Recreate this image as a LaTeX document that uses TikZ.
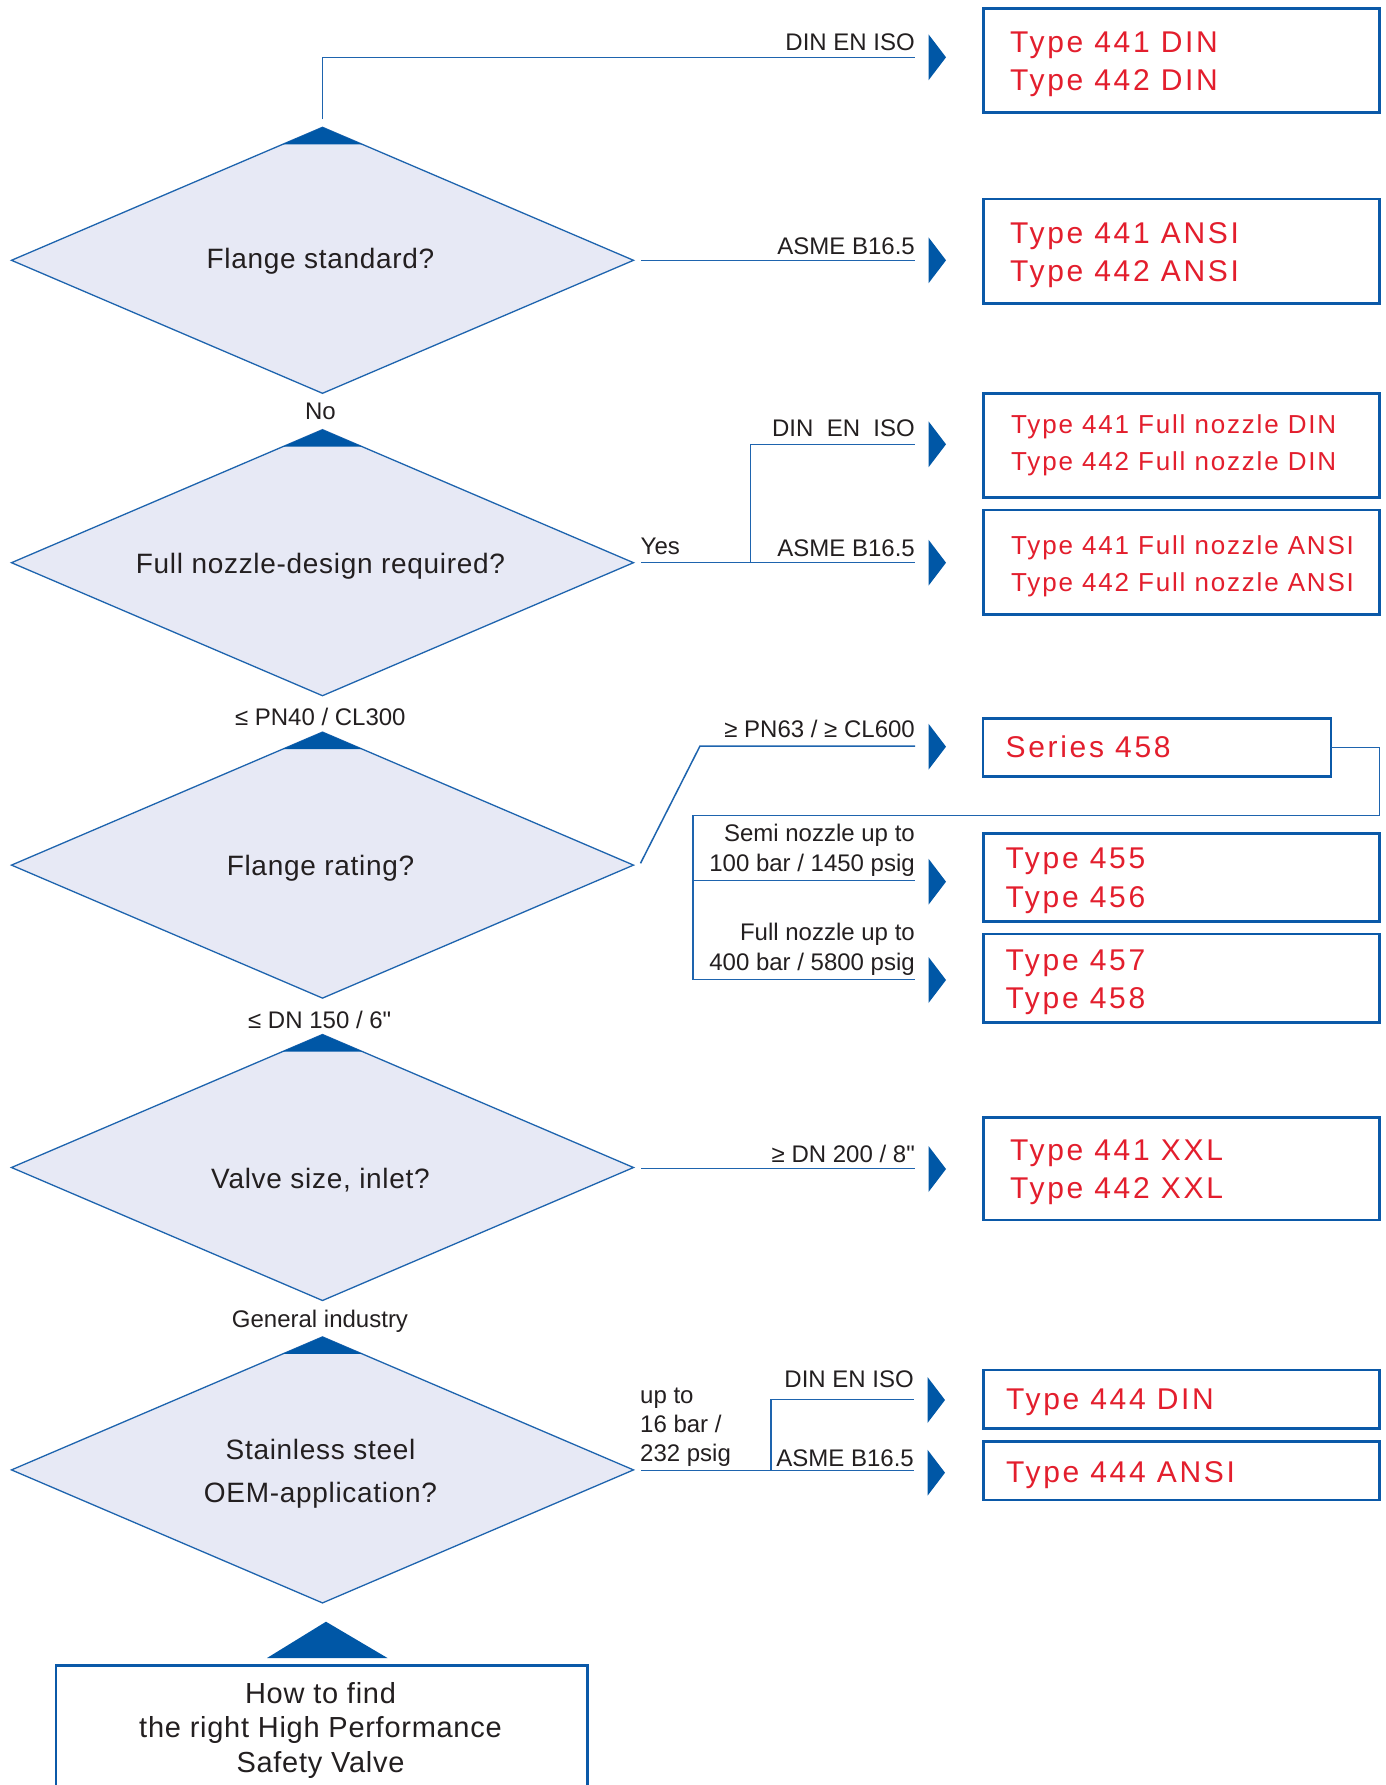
\documentclass[tikz,border=0pt]{standalone}
\usepackage{fontspec}
\setmainfont{Liberation Sans}
\newfontfamily\lblfont{Liberation Sans}
\newfontfamily\redfont[LetterSpace=9]{Liberation Sans}
\newfontfamily\redsfont[LetterSpace=7]{Liberation Sans}
\newfontfamily\qfont[LetterSpace=2.5]{Liberation Sans}
\usetikzlibrary{shapes.geometric,calc}
\definecolor{lineblue}{HTML}{1E64AE}
\definecolor{darkblue}{HTML}{0057A6}
\definecolor{boxblue}{HTML}{0B59A8}
\definecolor{dfill}{HTML}{E7E9F5}
\definecolor{redtext}{HTML}{E31E2D}
\definecolor{txt}{HTML}{231F20}
\begin{document}
\begin{tikzpicture}[x=1pt,y=-1pt,
  decision/.style={diamond, draw=lineblue, fill=dfill, line width=1.3pt, minimum width=622pt, minimum height=266pt, inner sep=0pt, outer sep=0pt},
  box/.style={draw=boxblue, line width=2.7pt, rectangle, inner sep=0pt, outer sep=0pt, minimum width=396.2pt},
  conn/.style={draw=lineblue, line width=1.5pt},
  lbl/.style={inner sep=0pt, text=txt, font=\lblfont\fontsize{24}{28}\selectfont},
  qtxt/.style={inner sep=0pt, text=txt, font=\qfont\fontsize{28}{34}\selectfont},
  stxt/.style={inner sep=0pt, text=txt, font=\qfont\fontsize{29}{34}\selectfont},
  rtxt/.style={inner sep=0pt, text=redtext, font=\redfont\fontsize{30}{34}\selectfont},
  rtxts/.style={inner sep=0pt, text=redtext, font=\redsfont\fontsize{26}{31}\selectfont},
  tri/.pic={\fill[darkblue] (0,0) -- (-17.5,-23) -- (-17.5,23) -- cycle;}
]
\useasboundingbox (0,0) rectangle (1385,1785);
\clip (0,0) rectangle (1385,1785);
\fill[white] (0,0) rectangle (1385,1785);

% decision diamonds
\foreach \n/\yy in {1/260.3,2/562.7,3/865.1,4/1167.5,5/1469.9}{
  \node[decision] (d\n) at (322.5,\yy) {};
  \fill[darkblue] (d\n.north) -- ($(d\n.north)!0.128!(d\n.west)$) -- ($(d\n.north)!0.128!(d\n.east)$) -- cycle;
}
\node[qtxt, anchor=base] (q1) at (320.5,268.5) {Flange standard?};
\node[qtxt, anchor=base] (q2) at (320.5,573) {Full nozzle-design required?};
\node[qtxt, anchor=base] (q3) at (320.5,875.5) {Flange rating?};
\node[qtxt, anchor=base] (q4) at (320.5,1188.5) {Valve size, inlet?};
\node[qtxt, anchor=base] (q5a) at (320.5,1459.3) {Stainless steel};
\node[qtxt, anchor=base] (q5b) at (320.5,1502) {OEM-application?};

% labels between diamonds
\node[lbl, anchor=base] (no) at (320.5,419.3) {No};
\node[lbl, anchor=base] (pn40) at (320.3,725.7) {≤ PN40 / CL300};
\node[lbl, anchor=base] (dn150) at (319.7,1028.3) {≤ DN 150 / 6"};
\node[lbl, anchor=base] (gen) at (320,1327.3) {General industry};

% start box
\node[draw=boxblue, line width=2.7pt, rectangle, inner sep=0pt, minimum width=531.5pt, minimum height=200pt] (start) at (321.75,1765.7) {};
\fill[darkblue] (326,1621.7) -- (387.5,1658) -- (267,1658) -- cycle;
\node[stxt, anchor=base] (s1) at (320.5,1703.3) {How to find};
\node[stxt, anchor=base] (s2) at (320.5,1737.5) {the right High Performance};
\node[stxt, anchor=base] (s3) at (320.5,1772) {Safety Valve};

% result boxes
\node[box, minimum height=104pt] (b1) at (1181.4,60.3) {};
\node[box, minimum height=104.3pt] (b2) at (1181.4,251.2) {};
\node[box, minimum height=104pt] (b3) at (1181.4,445.3) {};
\node[box, minimum height=104.3pt] (b4) at (1181.4,562.2) {};
\node[box, minimum width=348pt, minimum height=58.4pt] (bs) at (1157,747.5) {};
\node[box, minimum height=88.4pt] (b5) at (1181.4,877.5) {};
\node[box, minimum height=88.3pt] (b6) at (1181.4,978.2) {};
\node[box, minimum height=102.5pt] (b7) at (1181.4,1168.8) {};
\node[box, minimum height=58.3pt] (b8) at (1181.4,1399.2) {};
\node[box, minimum height=58.3pt] (b9) at (1181.4,1470.9) {};

\node[rtxt, anchor=base west] (r1a) at (1010,52.2) {Type 441 DIN};
\node[rtxt, anchor=base west] (r1b) at (1010,90.5) {Type 442 DIN};
\node[rtxt, anchor=base west] (r2a) at (1010,243.2) {Type 441 ANSI};
\node[rtxt, anchor=base west] (r2b) at (1010,281.5) {Type 442 ANSI};
\node[rtxts, anchor=base west] (r3a) at (1011,433.3) {Type 441 Full nozzle DIN};
\node[rtxts, anchor=base west] (r3b) at (1011,470.7) {Type 442 Full nozzle DIN};
\node[rtxts, anchor=base west] (r4a) at (1011,554) {Type 441 Full nozzle ANSI};
\node[rtxts, anchor=base west] (r4b) at (1011,591.7) {Type 442 Full nozzle ANSI};
\node[rtxt, anchor=base west] (rs) at (1005.4,757) {Series 458};
\node[rtxt, anchor=base west] (r5a) at (1005.4,868.6) {Type 455};
\node[rtxt, anchor=base west] (r5b) at (1005.4,907) {Type 456};
\node[rtxt, anchor=base west] (r6a) at (1005.4,970.3) {Type 457};
\node[rtxt, anchor=base west] (r6b) at (1005.4,1008.6) {Type 458};
\node[rtxt, anchor=base west] (r7a) at (1010,1160.5) {Type 441 XXL};
\node[rtxt, anchor=base west] (r7b) at (1010,1198.8) {Type 442 XXL};
\node[rtxt, anchor=base west] (r8) at (1006,1409.3) {Type 444 DIN};
\node[rtxt, anchor=base west] (r9) at (1006,1482) {Type 444 ANSI};

% row 1
\coordinate (e1a) at (915,57.3);
\coordinate (e1b) at (915,260.3);
\draw[conn] ($(d1.north)+(0,-8)$) |- (e1a);
\draw[conn] ($(d1.east)+(7.5,0)$) -- (e1b);
\node[lbl, anchor=base east] (l1a) at (915,50.7) {DIN EN ISO};
\node[lbl, anchor=base east] (l1b) at (915,254) {ASME B16.5};
\pic at (946,57.3) {tri};
\pic at (946,260.3) {tri};

% row 2
\coordinate (e2a) at (915,444.3);
\coordinate (e2b) at (915,562.7);
\coordinate (j2) at (750.7,562.7);
\draw[conn] ($(d2.east)+(7.5,0)$) -- (e2b);
\draw[conn] (j2) |- (e2a);
\node[lbl, anchor=base west] (yes) at (640.5,554) {Yes};
\node[lbl, anchor=base east] (l2a) at (915,436) {DIN\ \ EN\ \ ISO};
\node[lbl, anchor=base east] (l2b) at (915,556.7) {ASME B16.5};
\pic at (946,444.3) {tri};
\pic at (946,562.7) {tri};

% row 3
\coordinate (k3) at (700,746);
\coordinate (e3a) at (915,746);
\coordinate (c3a) at (1379.5,815.7);
\coordinate (c3b) at (693.2,815.7);
\coordinate (e3b) at (915,880.7);
\coordinate (e3c) at (915,979.3);
\draw[conn] ($(d3.east)+(7,-1.8)$) -- (k3) -- (e3a);
\draw[conn] (bs.east) -| (c3a) -- (c3b) |- (e3c);
\draw[conn] (c3b |- e3b) -- (e3b);
\node[lbl, anchor=base east] (l3a) at (915,737.7) {≥ PN63 / ≥ CL600};
\node[lbl, anchor=base east] (l3b) at (915,841.7) {Semi nozzle up to};
\node[lbl, anchor=base east] (l3c) at (915,871.7) {100 bar / 1450 psig};
\node[lbl, anchor=base east] (l3d) at (915,940.7) {Full nozzle up to};
\node[lbl, anchor=base east] (l3e) at (915,970) {400 bar / 5800 psig};
\pic at (946,746.7) {tri};
\pic at (946,881.7) {tri};
\pic at (946,980) {tri};

% row 4
\coordinate (e4) at (915,1168.7);
\draw[conn] ($(d4.east)+(7.5,1.2)$) -- (e4);
\node[lbl, anchor=base east] (l4) at (915,1162.3) {≥ DN 200 / 8"};
\pic at (946,1169) {tri};

% row 5
\coordinate (e5a) at (914,1399.3);
\coordinate (e5b) at (914,1470.7);
\coordinate (j5) at (771,1470.7);
\draw[conn] ($(d5.east)+(7.5,0.8)$) -- (e5b);
\draw[conn] (j5) |- (e5a);
\node[lbl, anchor=base west] (u1) at (640,1403.3) {up to};
\node[lbl, anchor=base west] (u2) at (640,1432.3) {16 bar /};
\node[lbl, anchor=base west] (u3) at (640,1461.7) {232 psig};
\node[lbl, anchor=base east] (l5a) at (914,1387.7) {DIN EN ISO};
\node[lbl, anchor=base east] (l5b) at (914,1466) {ASME B16.5};
\pic at (945,1400) {tri};
\pic at (945,1472.7) {tri};
\end{tikzpicture}
\end{document}
